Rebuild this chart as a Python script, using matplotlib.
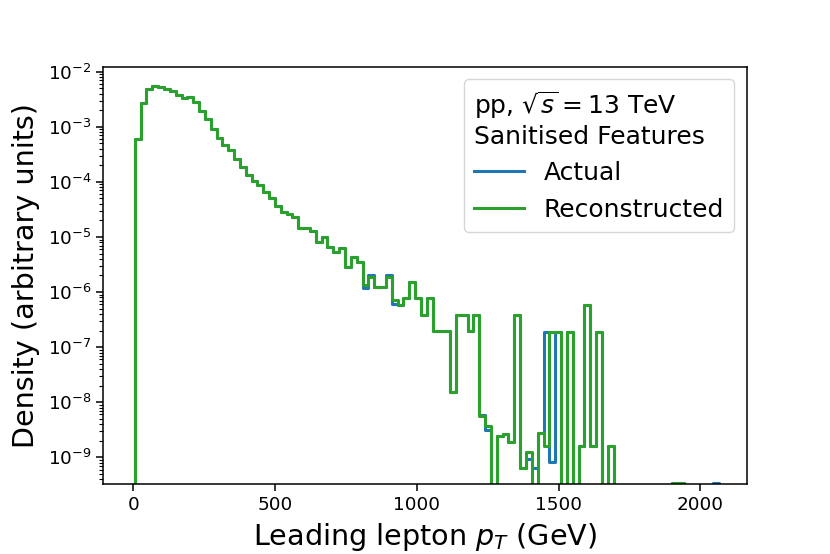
import numpy as np
import matplotlib
matplotlib.use('Agg')
import matplotlib.pyplot as plt

# binning of leading lepton pT (GeV)
pt_lo, pt_hi, n_bins = 5, 2065, 100

# densities (0 = empty bin)
reco = [6.0e-4, 2.74e-3, 4.8e-3, 5.5e-3, 5.2e-3, 4.8e-3, 4.5e-3, 3.83e-3, 3.38e-3, 3.5e-3,
        2.8e-3, 1.96e-3, 1.37e-3, 9.1e-4, 6.3e-4, 4.7e-4, 3.74e-4, 2.63e-4, 1.84e-4, 1.32e-4,
        1.05e-4, 8.7e-5, 6.6e-5, 5.1e-5, 3.66e-5, 2.88e-5, 2.6e-5, 2.27e-5, 1.44e-5, 1.44e-5,
        1.30e-5, 8.2e-6, 1.01e-5, 6.7e-6, 5.4e-6, 6.2e-6, 2.9e-6, 4.4e-6, 3.57e-6, 1.35e-6,
        1.9e-6, 1.22e-6, 1.22e-6, 1.85e-6, 7.1e-7, 5.8e-7, 7.7e-7, 1.55e-6, 7.7e-7, 3.84e-7,
        7.7e-7, 2.0e-7, 2.0e-7, 2.0e-7, 1.56e-8, 3.84e-7, 3.84e-7, 2.0e-7, 3.84e-7, 5.6e-9,
        3.7e-9, 0, 2.44e-9, 2.6e-9, 1.93e-9, 3.84e-7, 6.5e-10, 1.27e-9, 0, 2.8e-9,
        1.63e-9, 1.9e-7, 1.9e-7, 0, 1.9e-7, 0, 1.63e-9, 5.8e-7, 1.63e-9, 1.9e-7,
        0, 1.63e-9, 0, 0, 0, 0, 0, 0, 0, 0,
        0, 0, 3.4e-10, 3.4e-10, 0, 0, 0, 0, 0, 0]
actual = [6.0e-4, 2.74e-3, 4.8e-3, 5.5e-3, 5.2e-3, 4.8e-3, 4.5e-3, 3.83e-3, 3.38e-3, 3.5e-3,
          2.8e-3, 1.96e-3, 1.37e-3, 9.1e-4, 6.3e-4, 4.7e-4, 3.74e-4, 2.63e-4, 1.84e-4, 1.32e-4,
          1.05e-4, 8.7e-5, 6.6e-5, 5.1e-5, 3.66e-5, 2.88e-5, 2.6e-5, 2.27e-5, 1.44e-5, 1.44e-5,
          1.30e-5, 8.2e-6, 1.01e-5, 6.7e-6, 5.4e-6, 6.2e-6, 2.9e-6, 4.4e-6, 3.57e-6, 1.2e-6,
          2.05e-6, 1.22e-6, 1.22e-6, 2.0e-6, 6.0e-7, 5.8e-7, 7.7e-7, 1.55e-6, 7.7e-7, 3.84e-7,
          7.7e-7, 2.0e-7, 2.0e-7, 2.0e-7, 1.56e-8, 3.84e-7, 3.84e-7, 2.0e-7, 3.84e-7, 5.8e-9,
          3.2e-9, 0, 2.44e-9, 2.6e-9, 1.93e-9, 3.84e-7, 6.5e-10, 9.5e-10, 6.5e-10, 2.8e-9,
          1.9e-7, 8.1e-10, 1.9e-7, 0, 1.9e-7, 0, 1.63e-9, 5.8e-7, 1.63e-9, 1.9e-7,
          0, 1.63e-9, 0, 0, 0, 0, 0, 0, 0, 0,
          0, 0, 3.4e-10, 3.4e-10, 0, 0, 0, 0, 0, 3.4e-10]

edges = np.linspace(pt_lo, pt_hi, n_bins + 1)
xs = np.r_[edges[0], edges]

fig = plt.figure(figsize=(8.3, 5.54), dpi=100)
ax = fig.add_axes([0.1245, 0.1258, 0.7752, 0.7538])
ax.step(xs, np.r_[0, actual, 0], where='post', c='#1f77b4', lw=2.2, label='Actual')
ax.step(xs, np.r_[0, reco, 0], where='post', c='#2ca02c', lw=2.2, label='Reconstructed')
ax.set_yscale('log')
ax.set_xlim(-106, 2164); ax.set_ylim(3.24e-10, 1.233e-2)
ax.set_xticks([0, 500, 1000, 1500, 2000])
ax.tick_params(which='major', labelsize=13.2, length=4.8, width=1.1)
ax.tick_params(which='minor', length=2.8, width=0.8)
for s in ax.spines.values():
    s.set_linewidth(1.1)
ax.set_xlabel(r'Leading lepton $p_T$ (GeV)', fontsize=20.6, labelpad=5)
ax.set_ylabel('Density (arbitrary units)', fontsize=20.6, labelpad=6)
ax.legend(loc='upper right', fontsize=18, title_fontsize=18, alignment='left',
          title='pp, $\\sqrt{s} = 13$ TeV\nSanitised Features')
fig.savefig('out.png', dpi=100)
